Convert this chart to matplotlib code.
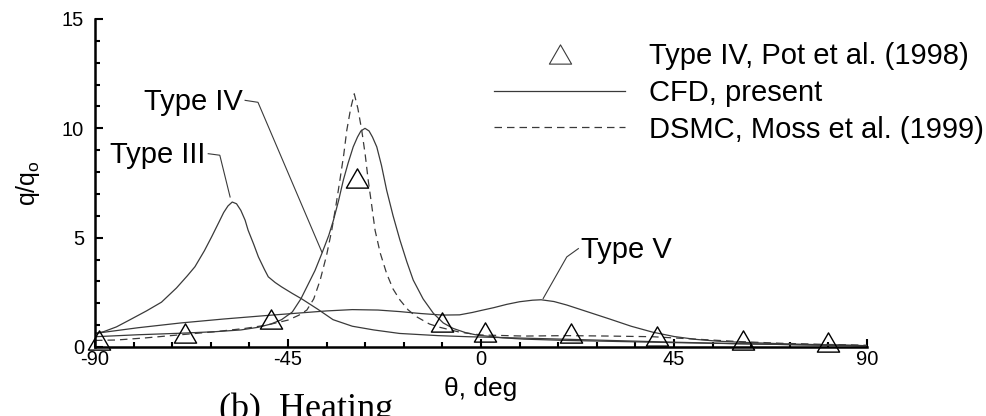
import matplotlib
matplotlib.use("Agg")
import matplotlib.pyplot as plt
from matplotlib.path import Path
from matplotlib.lines import Line2D

plt.rcParams["font.family"] = ["Liberation Sans", "DejaVu Sans"]
plt.rcParams["mathtext.fontset"] = "custom"
plt.rcParams["mathtext.rm"] = "Liberation Sans"
plt.rcParams["axes.unicode_minus"] = False

# ---- data (theta in deg, q/qo) ----
POT_THETA = [-89, -69, -49, -29, -9, 1, 21, 41, 61, 81]
POT_Q = [0.33, 0.64, 1.28, 7.74, 1.16, 0.70, 0.66, 0.51, 0.33, 0.24]

# CFD, Type III interaction
CFD3_THETA = [-90, -88, -85, -82, -78, -74.5, -71, -68.5, -66.7, -64.5, -62.8, -61, -60, -59, -58,
              -57, -56, -55, -54.3, -53, -51.9, -50.5, -49.6, -48, -46.5, -44, -41.8, -38, -34.5,
              -30, -25, -19, -10, -3, 5, 15, 30, 45, 60, 75, 90]
CFD3_Q = [0.62, 0.7, 0.92, 1.23, 1.65, 2.05, 2.7, 3.25, 3.67, 4.4, 5.04, 5.75, 6.15, 6.45, 6.63,
          6.55, 6.25, 5.8, 5.34, 4.7, 4.12, 3.55, 3.21, 2.95, 2.75, 2.45, 2.2, 1.72, 1.25,
          0.95, 0.78, 0.62, 0.52, 0.47, 0.43, 0.38, 0.3, 0.22, 0.15, 0.1, 0.06]

# CFD, Type IV interaction
CFD4_THETA = [-90, -80, -70, -62, -56, -52, -49, -46.5, -44, -42, -40.6, -38.7, -37.1, -35.5,
              -34.4, -33.2, -32.1, -31, -29.8, -28.8, -28, -27.05, -26.1, -25.3, -24.3, -23.2, -22, -20.5,
              -18.9, -17.3, -15.8, -13.5, -11.1, -8.8, -6.5, -3.5, -1, 5, 10, 20, 30, 45, 60, 75, 90]
CFD4_Q = [0.47, 0.56, 0.63, 0.7, 0.78, 0.9, 1.05, 1.25, 1.6, 2.2, 2.75, 3.5, 4.28, 5.1,
          5.8, 6.7, 7.63, 8.4, 9.15, 9.6, 9.88, 10.0, 9.88, 9.6, 9.15, 8.3, 7.17, 6.0,
          4.89, 3.9, 3.06, 2.2, 1.54, 1.1, 0.85, 0.65, 0.55, 0.42, 0.36, 0.3, 0.26, 0.2, 0.15, 0.1, 0.06]

# CFD, Type V interaction
CFD5_THETA = [-90, -80, -70, -60, -50, -42, -36, -30, -24, -19, -14, -9, -5, -2, 0,
              3, 6, 9, 12, 14, 17, 20, 25, 30, 35, 40, 45, 50, 55, 60, 70, 80, 90]
CFD5_Q = [0.62, 0.88, 1.1, 1.28, 1.44, 1.56, 1.65, 1.71, 1.69, 1.62, 1.53, 1.46, 1.47, 1.58, 1.67,
          1.8, 1.95, 2.07, 2.14, 2.16, 2.08, 1.92, 1.6, 1.28, 0.95, 0.68, 0.48, 0.35, 0.27, 0.22, 0.15, 0.1, 0.06]

# DSMC, Moss et al.
DSMC_THETA = [-90, -85, -78, -70.6, -62, -55, -50, -45, -42.5, -40.6, -39, -37.5, -36, -34.8,
              -33.8, -32.9, -32, -31.3, -30.4, -29.55, -28.7, -27.8, -27, -26.3, -25.5, -24.7,
              -23.5, -22, -20.5, -18.9, -17, -15, -12, -9.6, -5, 0, 10, 20, 30, 40, 50, 60, 70, 80, 90]
DSMC_Q = [0.3, 0.32, 0.42, 0.55, 0.7, 0.85, 1.0, 1.23, 1.45, 1.69, 2.2, 3.06, 4.2, 5.34,
          6.5, 7.63, 8.8, 9.9, 10.9, 11.58, 10.9, 9.9, 8.8, 7.63, 6.5, 5.34,
          4.3, 3.36, 2.65, 2.15, 1.7, 1.38, 1.05, 0.9, 0.68, 0.55, 0.5, 0.52, 0.5, 0.47, 0.36, 0.25, 0.17, 0.12, 0.08]

LEGEND_LABELS = ["Type IV, Pot et al. (1998)", "CFD, present", "DSMC, Moss et al. (1999)"]

LINE_C = "#3a3a3a"

# equilateral open triangle
tri = Path([(0, 0.433), (-0.5, -0.433), (0.5, -0.433), (0, 0.433)],
           [Path.MOVETO, Path.LINETO, Path.LINETO, Path.CLOSEPOLY])

fig = plt.figure(figsize=(9.87, 4.16), dpi=100)
ax = fig.add_axes([95 / 987, 1 - 347 / 416, (867 - 95) / 987, (347 - 19) / 416])

ax.plot(CFD3_THETA, CFD3_Q, color=LINE_C, lw=0.9)
ax.plot(CFD4_THETA, CFD4_Q, color=LINE_C, lw=0.9)
ax.plot(CFD5_THETA, CFD5_Q, color=LINE_C, lw=0.9)
ax.plot(DSMC_THETA, DSMC_Q, color=LINE_C, lw=0.9, dashes=(6, 4))
ax.plot(POT_THETA, POT_Q, ls="none", marker=tri, ms=16, mfc="none", mec="black", mew=1.0,
        clip_on=False, zorder=5)

# labels with leader lines
ax.plot([-55.0, -52.0, -37.1], [11.28, 11.19, 4.34], color=LINE_C, lw=0.8)
ax.text(-55.6, 11.2, "Type IV", fontsize=21, ha="right", va="center")
ax.plot([-63.6, -60.9, -58.5], [8.84, 8.77, 6.86], color=LINE_C, lw=0.8)
ax.text(-64.2, 8.8, "Type III", fontsize=21, ha="right", va="center")
ax.plot([22.7, 20.0, 14.5], [4.5, 4.12, 2.22], color=LINE_C, lw=0.8)
ax.text(23.2, 4.45, "Type V", fontsize=21, ha="left", va="center")

ax.set_xlim(-90, 90)
ax.set_ylim(0, 15)
ax.set_xticks([-90, -45, 0, 45, 90])
ax.set_xticks(range(-90, 91, 9), minor=True)
ax.set_yticks([0, 5, 10, 15])
ax.set_yticks(range(0, 16), minor=True)
ax.tick_params(which="both", direction="in", width=1.5, colors="black", labelsize=14.5)
ax.tick_params(which="major", length=6)
ax.tick_params(which="minor", length=3.5)
ax.tick_params(axis="x", pad=2)
ax.tick_params(axis="y", pad=8)
for s in ["top", "right"]:
    ax.spines[s].set_visible(False)
for s in ["left", "bottom"]:
    ax.spines[s].set_linewidth(1.8)

ax.set_xlabel("\u03b8, deg", fontsize=19, labelpad=6)
ax.set_ylabel(r"q/q$_\mathrm{o}$", fontsize=18, labelpad=14)

handles = [
    Line2D([], [], ls="none", marker=tri, ms=16, mfc="none", mec=LINE_C, mew=0.8),
    Line2D([], [], color=LINE_C, lw=0.9),
    Line2D([], [], color=LINE_C, lw=0.9, dashes=(6, 4)),
]
ax.legend(handles, LEGEND_LABELS, loc="upper left", bbox_to_anchor=(494 / 987, 1 - 42 / 416),
          bbox_transform=fig.transFigure, frameon=False, fontsize=21, handlelength=4.5,
          handletextpad=0.8, labelspacing=0.3, borderpad=0, borderaxespad=0)

fig.text(219 / 987, -0.005, "(b)  Heating", family="Liberation Serif", fontsize=26, va="baseline")

fig.savefig("out.png", dpi=100)
